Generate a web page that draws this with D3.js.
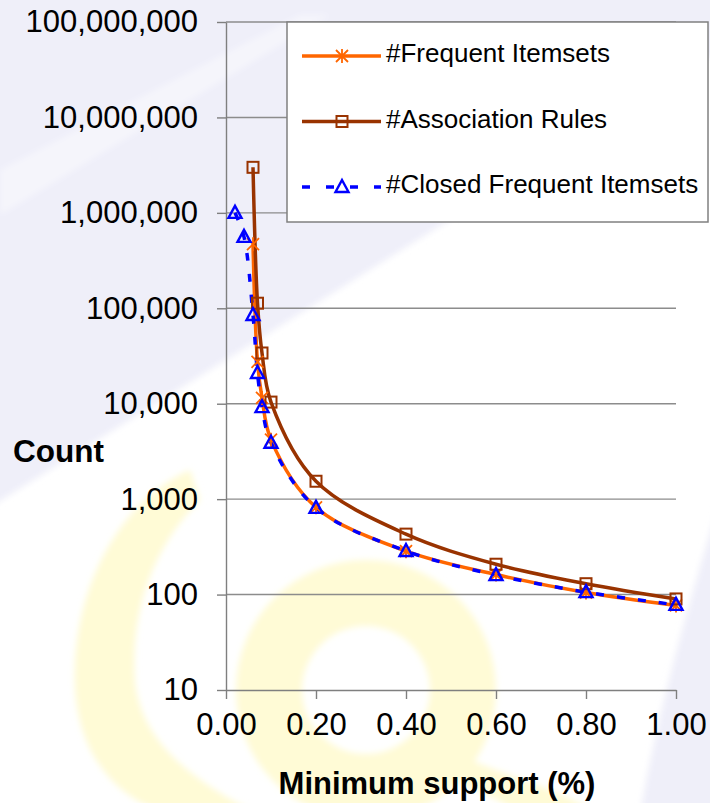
<!DOCTYPE html>
<html>
<head>
<meta charset="utf-8">
<script src="https://cdn.jsdelivr.net/npm/d3@7"></script>
<style>
  body { margin: 0; background: #fff; }
  text { font-family: "Liberation Sans", Arial, sans-serif; fill: #000; }
</style>
</head>
<body>
<div class="chart"></div>
<script>
// data
const supportMain = [0.06, 0.07, 0.08, 0.1, 0.2, 0.4, 0.6, 0.8, 1.0];
const frequentItemsets = [470000, 27500, 11500, 4200, 820, 285, 162, 105, 77];
const associationRules = [3000000, 113000, 34000, 10400, 1540, 430, 208, 130, 90];
const supportClosed = [0.02, 0.04, 0.06, 0.07, 0.08, 0.1, 0.2, 0.4, 0.6, 0.8, 1.0];
const closedItemsets = [1000000, 560000, 85000, 21000, 9200, 3900, 810, 286, 160, 106, 78];
const yTicks = [10, 100, 1000, 10000, 100000, 1000000, 10000000, 100000000];
const xTicks = [0, 0.2, 0.4, 0.6, 0.8, 1.0];
const seriesNames = ["#Frequent Itemsets", "#Association Rules", "#Closed Frequent Itemsets"];

const W = 710, H = 803;
let margin = { top: 22, right: 34, bottom: 113, left: 226 };

let svg = d3.select(".chart").append("svg")
  .attr("width", W).attr("height", H);

// watermark from the slide background
let defs = svg.append("defs");
defs.append("filter").attr("id", "soft")
  .append("feGaussianBlur").attr("stdDeviation", 3);

let bg = svg.append("g").attr("filter", "url(#soft)");
bg.append("path")
  .attr("d", "M-10,-10 L810,-10 L802,0 L0,501 L-10,507 Z")
  .attr("fill", "#efeff9");
bg.append("path")
  .attr("d", "M0,170 L300,15 L330,15 L0,215 Z")
  .attr("fill", "#f5f5fb");
bg.append("path")
  .attr("d", "M720,500 C690,600 660,700 640,813 L720,813 Z")
  .attr("fill", "#efeff9");
// big C-shaped arc
bg.append("path")
  .attr("d", "M190,470 C120,500 70,590 75,690 C80,760 120,800 170,815 L260,815 C190,780 140,740 135,680 C130,600 160,540 200,500 Z")
  .attr("fill", "#fffbd6");
// ring
let ring = d3.arc().innerRadius(64).outerRadius(130).startAngle(0).endAngle(2 * Math.PI);
bg.append("path")
  .attr("transform", "translate(366,690)")
  .attr("d", ring())
  .attr("fill", "#fffbd6");
bg.append("path")
  .attr("d", "M470,760 C520,780 560,790 600,815 L520,815 C500,800 480,790 460,785 Z")
  .attr("fill", "#fffbd6");

let x = d3.scaleLinear().domain([0, 1]).range([margin.left, W - margin.right]);
let y = d3.scaleLog().domain([10, 100000000]).range([H - margin.bottom, margin.top]);

// gridlines
svg.append("g").selectAll("line")
  .data(yTicks.slice(1))
  .join("line")
  .attr("x1", x(0)).attr("x2", x(1))
  .attr("y1", d => y(d)).attr("y2", d => y(d))
  .attr("stroke", "#8c8c8c")
  .attr("stroke-width", 1.4);

// axes
const yAxis = d3.axisLeft(y).tickValues(yTicks).tickFormat(d3.format(","))
  .tickSize(9).tickSizeOuter(0).tickPadding(19);
const xAxis = d3.axisBottom(x).tickValues(xTicks).tickFormat(d3.format(".2f"))
  .tickSize(9).tickSizeOuter(0).tickPadding(14);

const yAxisGroup = svg.append("g")
  .attr("transform", "translate(" + margin.left + ",0)")
  .call(yAxis);
const xAxisGroup = svg.append("g")
  .attr("transform", "translate(0," + (H - margin.bottom) + ")")
  .call(xAxis);

[yAxisGroup, xAxisGroup].forEach(g => {
  g.selectAll("path, line").attr("stroke", "#7f7f7f").attr("stroke-width", 1.4);
  g.selectAll("text")
    .style("font-family", '"Liberation Sans", Arial, sans-serif')
    .style("font-size", "31px")
    .attr("fill", "#000");
});

svg.append("text")
  .attr("x", 13).attr("y", 462)
  .style("font-size", "31.5px").style("font-weight", "bold")
  .text("Count");

svg.append("text")
  .attr("x", 437).attr("y", 794)
  .attr("text-anchor", "middle")
  .style("font-size", "31px").style("font-weight", "bold")
  .text("Minimum support (%)");

// lines
const line = d3.line()
  .x(d => x(d[0])).y(d => y(d[1]))
  .curve(d3.curveCatmullRom.alpha(0.5));

const freqData = supportMain.map((s, i) => [s, frequentItemsets[i]]);
const rulesData = supportMain.map((s, i) => [s, associationRules[i]]);
const closedData = supportClosed.map((s, i) => [s, closedItemsets[i]]);

const ORANGE = "#ff6600", BROWN = "#993300", BLUE = "#0000ff";

svg.append("path").datum(freqData).attr("d", line)
  .attr("fill", "none").attr("stroke", ORANGE).attr("stroke-width", 3.5);
svg.append("path").datum(rulesData).attr("d", line)
  .attr("fill", "none").attr("stroke", BROWN).attr("stroke-width", 3.5);
svg.append("path").datum(closedData).attr("d", line)
  .attr("fill", "none").attr("stroke", BLUE).attr("stroke-width", 3.5)
  .attr("stroke-dasharray", "8,13");

// marker painters
function asterisk(g, cx, cy) {
  const r = 6;
  g.append("path")
    .attr("d", `M${cx - r},${cy - r}L${cx + r},${cy + r}M${cx - r},${cy + r}L${cx + r},${cy - r}M${cx},${cy - r - 1}L${cx},${cy + r + 1}`)
    .attr("stroke", ORANGE).attr("stroke-width", 1.8).attr("fill", "none");
}
function square(g, cx, cy) {
  g.append("rect")
    .attr("x", cx - 5.5).attr("y", cy - 5.5).attr("width", 11).attr("height", 11)
    .attr("fill", "none").attr("stroke", BROWN).attr("stroke-width", 2);
}
function triangle(g, cx, cy) {
  g.append("path")
    .attr("d", `M${cx},${cy - 7}L${cx + 6.5},${cy + 5}L${cx - 6.5},${cy + 5}Z`)
    .attr("fill", "none").attr("stroke", BLUE).attr("stroke-width", 2.4);
}

const marks = svg.append("g");
freqData.forEach(d => asterisk(marks, x(d[0]), y(d[1])));
rulesData.forEach(d => square(marks, x(d[0]), y(d[1])));
closedData.forEach(d => triangle(marks, x(d[0]), y(d[1])));

// legend
const legend = svg.append("g");
legend.append("rect")
  .attr("x", 287).attr("y", 22).attr("width", 421).attr("height", 200)
  .attr("fill", "#fff").attr("stroke", "#808080").attr("stroke-width", 1.5);

const legendColors = [ORANGE, BROWN, BLUE];
const legendMarkers = [asterisk, square, triangle];
seriesNames.forEach((name, i) => {
  const cy = 56 + i * 65.5;
  legend.append("line")
    .attr("x1", 302).attr("x2", 381).attr("y1", cy).attr("y2", cy)
    .attr("stroke", legendColors[i]).attr("stroke-width", 3.5)
    .attr("stroke-dasharray", i === 2 ? "8,16" : null);
  legendMarkers[i](legend, 342, cy);
  legend.append("text")
    .attr("x", 386).attr("y", cy + 6)
    .style("font-size", "26px")
    .text(name);
});
</script>
</body>
</html>
